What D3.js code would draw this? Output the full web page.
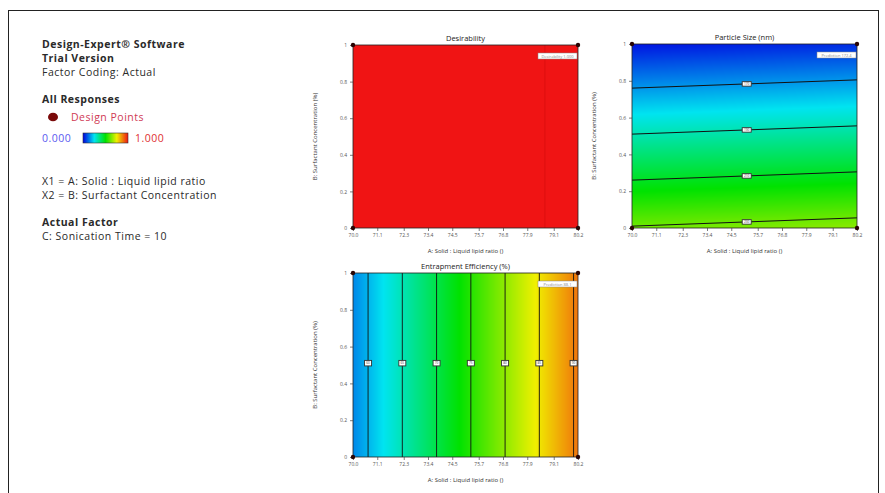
<!DOCTYPE html>
<html><head><meta charset="utf-8">
<script src="https://cdn.jsdelivr.net/npm/d3@7"></script>
<style>
  body { margin: 0; background: #fff; }
  svg { display: block; font-family: "Open Sans", "DejaVu Sans", sans-serif; }
</style>
</head><body>
<svg id="chart" width="885" height="493"></svg>
<script>
// Factor ranges and axis ticks
const aDomain = [70, 80.2];                 // A: Solid : Liquid lipid ratio
const bDomain = [0, 1];                     // B: Surfactant Concentration (%)
const aTicks = [70.0, 71.1, 72.3, 73.4, 74.5, 75.7, 76.8, 77.9, 79.1, 80.2];
const bTicks = [0, 0.2, 0.4, 0.6, 0.8, 1];
const bTickLabels = ["0", "0.2", "0.4", "0.6", "0.8", "1"];

// Design points (factorial corners)
const designA = [70, 80.2, 70, 80.2];
const designB = [0, 0, 1, 1];

// Desirability (constant over the region)
const desirabilityValue = 1.0;
const desirabilityEdgeA = 78.7;
const desirabilityFlag = "Desirability 1.000";

// Particle size (nm) = c0 + cA*A + cB*B
const particleCoef = [206.1, 0.353, -80.0];
const particleLevels = [170, 190, 210, 230];
const particleColorRange = [148, 282];
const particleLabelA = 75.2;
const particleFlag = "Prediction 172.4";

// Entrapment efficiency (%) = c0 + cA*A + cB*B
const entrapCoef = [-167.6, 3.22, 0];
const entrapLevels = [60, 65, 70, 75, 80, 85, 90];
const entrapColorRange = [51.2, 95.5];
const entrapLabelB = 0.51;
const entrapFlag = "Prediction 88.1";

// Colour map shared by all responses and the legend bar
const heatStops = [0, 0.25, 0.5, 0.75, 1];
const heatColors = ["#0000e0", "#00e4f0", "#00e200", "#f0f000", "#f01414"];
const heat = d3.scaleLinear().domain(heatStops).range(heatColors).clamp(true);

const svg = d3.select("#chart");

// Outer frame
svg.append("rect").attr("x", 8.5).attr("y", 10.5).attr("width", 870).attr("height", 495)
  .attr("fill", "none").attr("stroke", "#222").attr("stroke-width", 1);

// ---------- Information column ----------
const info = svg.append("g").attr("fill", "#2a2a2a")
  .style("font-size", "10.5px").style("letter-spacing", "0.5px");
const infoLines = [
  { t: "Design-Expert® Software", y: 48, bold: true },
  { t: "Trial Version", y: 62, bold: true },
  { t: "Factor Coding: Actual", y: 76 },
  { t: "All Responses", y: 103, bold: true },
  { t: "X1 = A: Solid : Liquid lipid ratio", y: 185 },
  { t: "X2 = B: Surfactant Concentration", y: 199 },
  { t: "Actual Factor", y: 226, bold: true },
  { t: "C: Sonication Time = 10", y: 240 }
];
info.selectAll("text.line").data(infoLines).join("text")
  .attr("class", "line").attr("x", 42).attr("y", d => d.y)
  .attr("font-weight", d => d.bold ? 700 : 400).text(d => d.t);

info.append("ellipse").attr("cx", 53).attr("cy", 117).attr("rx", 5).attr("ry", 4.3)
  .attr("fill", "#7a0a0a");
info.append("text").attr("x", 71).attr("y", 121).attr("fill", "#d03a55").text("Design Points");
info.append("text").attr("x", 42).attr("y", 142).attr("fill", "#5a5af0").text("0.000");
info.append("text").attr("x", 135).attr("y", 142).attr("fill", "#e03030").text("1.000");

const defs = svg.append("defs");
const lg = defs.append("linearGradient").attr("id", "legendGrad");
lg.selectAll("stop").data(heatStops).join("stop")
  .attr("offset", d => d * 100 + "%").attr("stop-color", d => heat(d));
info.append("rect").attr("x", 83).attr("y", 133).attr("width", 45).attr("height", 10)
  .attr("fill", "url(#legendGrad)").attr("stroke", "#333").attr("stroke-width", 0.6);

// ---------- Contour panels ----------
function linearModel(c) { return (a, b) => c[0] + c[1] * a + c[2] * b; }

function panel(opt) {
  const g = svg.append("g");
  const x = d3.scaleLinear().domain(aDomain).range([opt.x0, opt.x1]);
  const y = d3.scaleLinear().domain(bDomain).range([opt.y1, opt.y0]);
  const w = opt.x1 - opt.x0, h = opt.y1 - opt.y0;

  // Filled response surface
  if (opt.fill) {
    g.append("rect").attr("x", opt.x0).attr("y", opt.y0).attr("width", w).attr("height", h)
      .attr("fill", opt.fill);
  } else {
    const canvas = document.createElement("canvas");
    canvas.width = w; canvas.height = h;
    const ctx = canvas.getContext("2d");
    const img = ctx.createImageData(w, h);
    const t = d3.scaleLinear().domain(opt.colorRange).range([0, 1]);
    for (let j = 0; j < h; j++) {
      for (let i = 0; i < w; i++) {
        const v = opt.model(x.invert(opt.x0 + i + 0.5), y.invert(opt.y0 + j + 0.5));
        const c = d3.rgb(heat(t(v)));
        const k = (j * w + i) * 4;
        img.data[k] = c.r; img.data[k + 1] = c.g; img.data[k + 2] = c.b; img.data[k + 3] = 255;
      }
    }
    ctx.putImageData(img, 0, 0);
    g.append("image").attr("href", canvas.toDataURL()).attr("x", opt.x0).attr("y", opt.y0)
      .attr("width", w).attr("height", h).attr("preserveAspectRatio", "none");
  }

  if (opt.draw) opt.draw(g, x, y);

  // Frame
  g.append("rect").attr("x", opt.x0).attr("y", opt.y0).attr("width", w).attr("height", h)
    .attr("fill", "none").attr("stroke", "#222").attr("stroke-width", 0.8);

  // Axes
  const xAxis = g.append("g").attr("transform", `translate(0,${opt.y1})`)
    .call(d3.axisBottom(x).tickValues(aTicks).tickFormat(d3.format(".1f")).tickSize(3).tickSizeOuter(0).tickPadding(2));
  const yAxis = g.append("g").attr("transform", `translate(${opt.x0},0)`)
    .call(d3.axisLeft(y).tickValues(bTicks).tickFormat((d, i) => bTickLabels[i]).tickSize(3).tickSizeOuter(0).tickPadding(3));
  [xAxis, yAxis].forEach(ax => {
    ax.select(".domain").remove();
    ax.selectAll("line").attr("stroke", "#444").attr("stroke-width", 0.7);
    ax.selectAll("text").attr("fill", "#555").style("font-size", "5px")
      .style("font-family", "'Open Sans', sans-serif");
  });

  // Titles
  g.append("text").attr("x", (opt.x0 + opt.x1) / 2).attr("y", opt.y0 - 4)
    .attr("text-anchor", "middle").attr("fill", "#222").style("font-size", "7.5px").text(opt.title);
  g.append("text").attr("x", (opt.x0 + opt.x1) / 2).attr("y", opt.y1 + 25)
    .attr("text-anchor", "middle").attr("fill", "#333").style("font-size", "6px")
    .text("A: Solid : Liquid lipid ratio ()");
  g.append("text").attr("transform", `translate(${opt.x0 - 36},${(opt.y0 + opt.y1) / 2}) rotate(-90)`)
    .attr("text-anchor", "middle").attr("fill", "#333").style("font-size", "6px")
    .text("B: Surfactant Concentration (%)");

  // Prediction flag
  const fg = g.append("g").attr("transform", `translate(${opt.x1 - 40},${opt.y0 + 8})`);
  fg.append("rect").attr("width", 39).attr("height", 6).attr("fill", "#fff")
    .attr("stroke", "#888").attr("stroke-width", 0.5);
  fg.append("text").attr("x", 19.5).attr("y", 4.5).attr("text-anchor", "middle")
    .attr("fill", "#888").style("font-size", "4px").text(opt.flag);

  // Design points
  g.selectAll("circle.dp").data(designA.map((a, i) => [a, designB[i]])).join("circle")
    .attr("class", "dp").attr("cx", d => x(d[0])).attr("cy", d => y(d[1])).attr("r", 2.2)
    .attr("fill", "#2a0505");
}

function labelBox(g, cx, cy, bw, bh, txt) {
  g.append("rect").attr("x", cx - bw / 2).attr("y", cy - bh / 2).attr("width", bw).attr("height", bh)
    .attr("fill", "#fff").attr("stroke", "#333").attr("stroke-width", 0.9);
  g.append("text").attr("x", cx).attr("y", cy + 1.2).attr("text-anchor", "middle")
    .attr("fill", "#444").style("font-size", "3.2px").text(txt);
}

// Desirability
panel({
  x0: 353, x1: 578, y0: 45, y1: 228, title: "Desirability",
  fill: heat(desirabilityValue), flag: desirabilityFlag,
  draw: (g, x, y) => {
    g.append("line").attr("x1", x(desirabilityEdgeA)).attr("x2", x(desirabilityEdgeA))
      .attr("y1", y(bDomain[0])).attr("y2", y(bDomain[1]))
      .attr("stroke", "#b00000").attr("stroke-opacity", 0.35).attr("stroke-width", 0.8);
  }
});

// Particle size
const psModel = linearModel(particleCoef);
panel({
  x0: 632, x1: 857, y0: 44, y1: 228, title: "Particle Size (nm)",
  model: psModel, colorRange: particleColorRange, flag: particleFlag,
  draw: (g, x, y) => {
    const bAt = (lvl, a) => (lvl - particleCoef[0] - particleCoef[1] * a) / particleCoef[2];
    const line = d3.line().x(d => x(d[0])).y(d => y(d[1]));
    particleLevels.forEach(lvl => {
      const pts = aDomain.map(a => [a, Math.max(bDomain[0], bAt(lvl, a))]);
      g.append("path").attr("d", line(pts)).attr("fill", "none")
        .attr("stroke", "#111").attr("stroke-width", 1);
    });
    particleLevels.forEach(lvl => {
      labelBox(g, x(particleLabelA), y(bAt(lvl, particleLabelA)), 9, 4.5, lvl);
    });
  }
});

// Entrapment efficiency
panel({
  x0: 353, x1: 578, y0: 273, y1: 457, title: "Entrapment Efficiency  (%)",
  model: linearModel(entrapCoef), colorRange: entrapColorRange, flag: entrapFlag,
  draw: (g, x, y) => {
    const aAt = lvl => (lvl - entrapCoef[0]) / entrapCoef[1];
    entrapLevels.forEach(lvl => {
      g.append("line").attr("x1", x(aAt(lvl))).attr("x2", x(aAt(lvl)))
        .attr("y1", y(bDomain[0])).attr("y2", y(bDomain[1]))
        .attr("stroke", "#111").attr("stroke-width", 0.9);
    });
    entrapLevels.forEach(lvl => labelBox(g, x(aAt(lvl)), y(entrapLabelB), 7, 5.5, lvl));
  }
});
</script>
</body></html>
